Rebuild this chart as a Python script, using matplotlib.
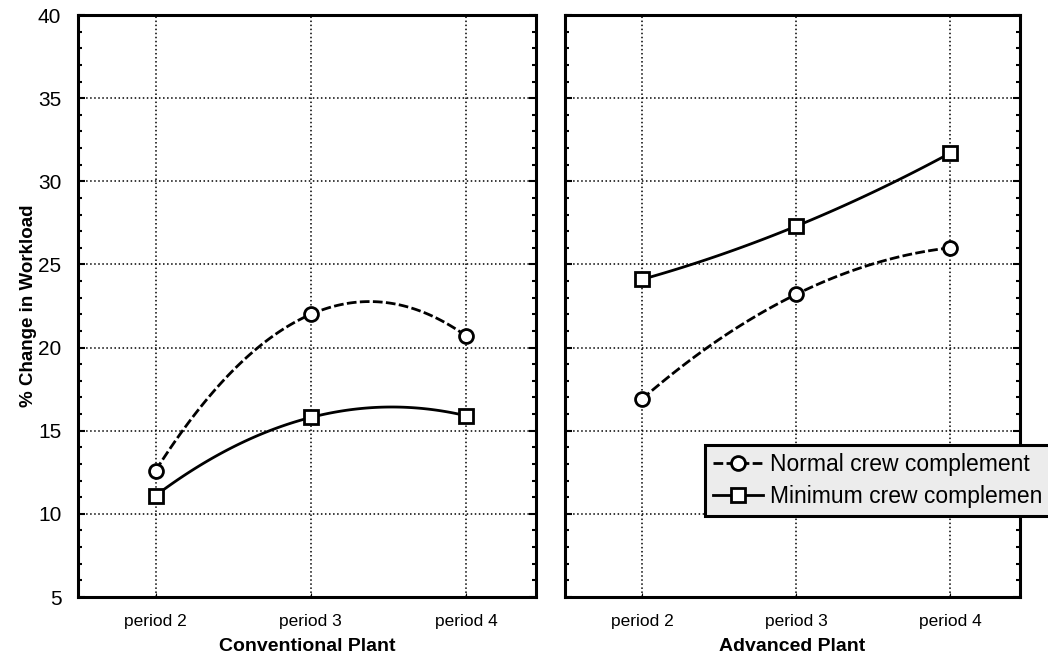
import numpy as np
import matplotlib
matplotlib.use("Agg")
import matplotlib.pyplot as plt
from matplotlib.lines import Line2D
from matplotlib.ticker import MultipleLocator

plt.rcParams['font.family'] = ['Liberation Sans', 'DejaVu Sans']

periods = ["period 2", "period 3", "period 4"]
panels = ["Conventional Plant", "Advanced Plant"]
series_names = ["Normal crew complement", "Minimum crew complemen"]

# % change in workload
conv_normal = [12.6, 22.0, 20.7]
conv_minimum = [11.1, 15.8, 15.9]
adv_normal = [16.9, 23.2, 26.0]
adv_minimum = [24.1, 27.3, 31.7]

data = [(conv_normal, conv_minimum), (adv_normal, adv_minimum)]

fig = plt.figure(figsize=(10.48, 6.64), dpi=100)
ax1 = fig.add_axes([0.0744, 0.1009, 0.437, 0.8765])
ax2 = fig.add_axes([0.539, 0.1009, 0.434, 0.8765])

dash = (0, (3.5, 1.2))
x = np.arange(1, len(periods) + 1)

for ax, title, (normal, minimum) in zip([ax1, ax2], panels, data):
    # smooth curve through the three points (quadratic through them)
    xs = np.linspace(x[0], x[-1], 100)
    for vals, ls, mk in [(normal, dash, 'o'), (minimum, '-', 's')]:
        c = np.polyfit(x, vals, 2)
        ax.plot(xs, np.polyval(c, xs), color='black', lw=2, ls=ls, zorder=3)
        ax.plot(x, vals, ls='none', marker=mk, ms=10, mfc='white',
                mec='black', mew=2, zorder=4)
    ax.set_xlim(0.5, 3.45)
    ax.set_ylim(5, 40)
    ax.set_xticks(x)
    ax.set_xticklabels(periods, fontsize=12.5)
    ax.yaxis.set_major_locator(MultipleLocator(5))
    ax.yaxis.set_minor_locator(MultipleLocator(1))
    ax.tick_params(axis='y', which='both', direction='in', left=True, right=True)
    ax.tick_params(axis='y', which='major', length=5, width=1.5,
                   labelsize=15, pad=12)
    ax.tick_params(axis='y', which='minor', length=3, width=1.5)
    ax.tick_params(axis='x', direction='in', length=3, pad=12)
    ax.grid(True, which='major', ls=':', color='black', lw=1.1)
    for s in ax.spines.values():
        s.set_linewidth(2.2)
    ax.set_xlabel(title, fontsize=14, fontweight='bold', labelpad=7)

ax2.tick_params(axis='y', labelleft=False)
ax1.set_ylabel("% Change in Workload", fontsize=13.5, fontweight='bold', labelpad=1)

handles = [
    Line2D([], [], color='black', lw=2, ls=dash, marker='o', ms=10,
           mfc='white', mec='black', mew=2),
    Line2D([], [], color='black', lw=2, ls='-', marker='s', ms=10,
           mfc='white', mec='black', mew=2),
]
# legend box runs past the right edge, as in the original scan
leg = fig.legend(handles, series_names, loc='upper left',
                 bbox_to_anchor=(0.6727, 0.3298), borderaxespad=0,
                 fontsize=16.5, fancybox=False, framealpha=1,
                 edgecolor='black', facecolor='#ececec', handlelength=2.2,
                 handletextpad=0.3, borderpad=0.35, labelspacing=0.4)
leg.get_frame().set_linewidth(2.2)

fig.savefig("out.png", dpi=100)
